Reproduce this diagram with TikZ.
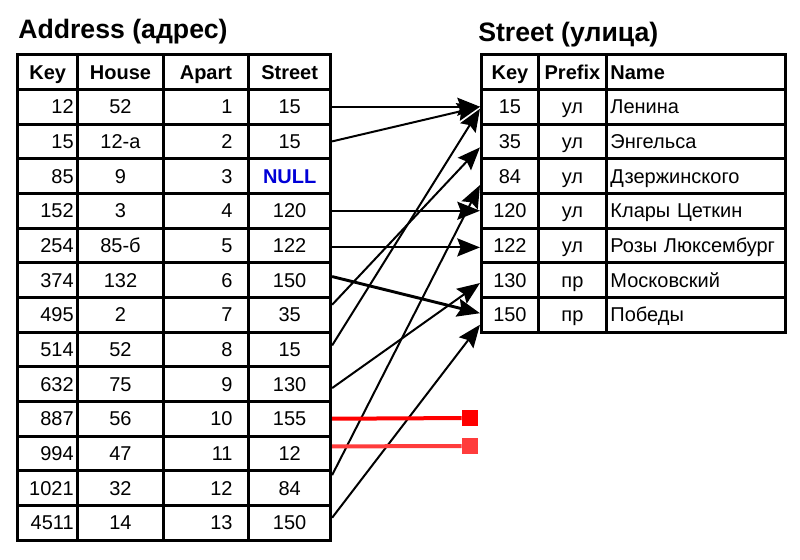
\documentclass[tikz,border=0pt]{standalone}
\usepackage{fontspec}
\setmainfont{Liberation Sans}
\usetikzlibrary{matrix,calc,arrows.meta}

\newcommand\cellfont{\fontsize{15}{18}\selectfont}
\newcommand\headfont{\fontsize{15}{18}\selectfont\bfseries}
\newcommand\titlefont{\fontsize{20}{24}\selectfont\bfseries}
\definecolor{nullblue}{RGB}{0,0,215}
\definecolor{nullred}{RGB}{255,60,60}

\begin{document}
\begin{tikzpicture}[x=0.75pt,y=-0.75pt]
\tikzset{
  tbl/.style={matrix of nodes, inner sep=0pt, column sep=-2.2pt, row sep=-2.2pt,
    nodes={draw, line width=2.2pt, minimum height=26pt, inner xsep=3pt, inner ysep=0pt,
      text height=10.7pt, text depth=0pt, anchor=center, font=\cellfont},
    row 1/.style={nodes={font=\headfont}}},
  title/.style={font=\titlefont, anchor=base west, inner sep=0pt},
  ref/.style={line width=1.5pt, -{Stealth[length=17pt,width=13.5pt,inset=2.5pt]}},
  nullref/.style={line width=3pt},
  nullend/.style={minimum size=12pt, inner sep=0pt}
}
\useasboundingbox (0,0) rectangle (800,560);

\node (addrtitle) [title] at (18,39) {Address (адрес)};
\node (strtitle) [title] at (478,42) {Street (улица)};

\matrix (addr) [tbl, anchor=north west,
  column 1/.style={nodes={text width=39pt, align=right}},
  column 2/.style={nodes={text width=58.1pt, align=center}},
  column 3/.style={nodes={text width=40pt, minimum width=64.1pt, align=right}},
  column 4/.style={nodes={text width=55.5pt, align=center}}] at (16,53) {
  |[align=center]|Key & House & |[align=center]|Apart & Street \\
  12   & 52   & 1  & 15 \\
  15   & 12-а & 2  & 15 \\
  85   & 9    & 3  & |[text=nullblue, font=\headfont]|NULL \\
  152  & 3    & 4  & 120 \\
  254  & 85-б & 5  & 122 \\
  374  & 132  & 6  & 150 \\
  495  & 2    & 7  & 35 \\
  514  & 52   & 8  & 15 \\
  632  & 75   & 9  & 130 \\
  887  & 56   & 10 & 155 \\
  994  & 47   & 11 & 12 \\
  1021 & 32   & 12 & 84 \\
  4511 & 14   & 13 & 150 \\
};

\matrix (str) [tbl, anchor=north west,
  column 1/.style={nodes={text width=36.75pt, align=center}},
  column 2/.style={nodes={text width=45pt, align=center}},
  column 3/.style={nodes={text width=128.25pt, align=left}}] at (479.7,53) {
  Key & Prefix & Name \\
  15  & ул & Ленина \\
  35  & ул & Энгельса \\
  84  & ул & Дзержинского \\
  120 & ул & Клары Цеткин \\
  122 & ул & Розы Люксембург \\
  130 & пр & Московский \\
  150 & пр & Победы \\
};

% references Street -> Key
\draw[ref] (addr-2-4.east) -- (str-2-1.west);
\draw[ref] (addr-3-4.east) -- (str-2-1.west);
\draw[ref] (addr-5-4.east) -- (str-5-1.west);
\draw[ref] ($(addr-6-4.east)+(0,2)$) -- ($(str-6-1.west)+(0,2)$);
\draw[ref, line width=2.2pt] ($(addr-7-4.east)+(0,-3.5)$) -- ($(str-8-1.west)+(0,-1.5)$);
\draw[ref] ($(addr-8-4.east)+(0,-10)$) -- ($(str-3-1.west)+(0,6)$);
\draw[ref] ($(addr-9-4.east)+(0,-4)$) -- ($(str-2-1.west)+(0,2)$);
\draw[ref] ($(addr-10-4.east)+(0,4)$) -- ($(str-7-1.west)+(0,3)$);
\draw[ref] ($(addr-13-4.east)+(0,-13)$) -- ($(str-4-1.west)+(0,9)$);
\draw[ref] ($(addr-14-4.east)+(0,-5)$) -- ($(str-8-1.west)+(0,10)$);

% dangling references
\node (null155) [nullend, fill=red] at (470,418) {};
\node (null12) [nullend, fill=nullred] at (470,446) {};
\draw[nullref, red] (addr-11-4.east) -- (null155);
\draw[nullref, nullred] ($(addr-12-4.east)+(0,-7)$) -- (null12);
\end{tikzpicture}
\end{document}
